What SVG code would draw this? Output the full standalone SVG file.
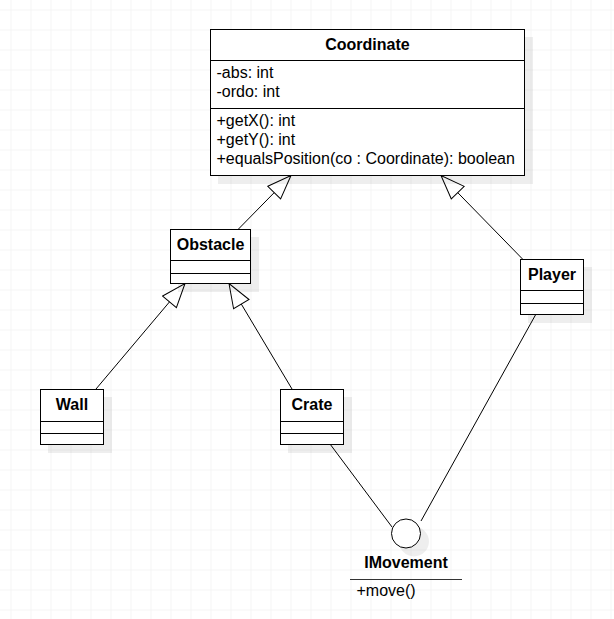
<svg xmlns="http://www.w3.org/2000/svg" width="614" height="619" viewBox="0 0 614 619">
<defs>
<pattern id="grid" x="10.5" y="9.5" width="20" height="20" patternUnits="userSpaceOnUse">
<path d="M0 0 H20 M0 0 V20" fill="none" stroke="#ebebeb" stroke-width="1"/>
</pattern>
<marker id="inherit" markerUnits="userSpaceOnUse" viewBox="0 0 26 20" markerWidth="26" markerHeight="20" refX="25" refY="10" orient="auto">
<polygon points="1,1 25,10 1,19" fill="#fff" stroke="#000" stroke-width="1"/>
</marker>
</defs>
<style>
.box{fill:#fff;stroke:#000;stroke-width:1}
.sh{fill:#000;opacity:0.065}
.sep{stroke:#000;stroke-width:1}
.t{font-family:"Liberation Sans",Arial,sans-serif;font-size:16px;fill:#000}
.b{font-weight:bold;text-anchor:middle}
.edge{fill:none;stroke:#000;stroke-width:1}
</style>
<rect x="0" y="0" width="614" height="619" fill="#fff"/>
<rect x="0" y="0" width="614" height="619" fill="url(#grid)"/>

<g id="connectors">
<path class="edge" d="M238.5 229 L291 175.5" marker-end="url(#inherit)"/>
<path class="edge" d="M522.5 259 L441 175.5" marker-end="url(#inherit)"/>
<path class="edge" d="M96 389 L185 283.5" marker-end="url(#inherit)"/>
<path class="edge" d="M292 389 L229 283.5" marker-end="url(#inherit)"/>
<path class="edge" d="M330 444 L392 527"/>
<path class="edge" d="M536 314 L421 521"/>
</g>

<g id="Coordinate">
<rect class="sh" x="218" y="37" width="315" height="147"/>
<rect class="box" x="210.5" y="29.5" width="314" height="146"/>
<line class="sep" x1="210.5" y1="60.5" x2="524.5" y2="60.5"/>
<line class="sep" x1="210.5" y1="108.5" x2="524.5" y2="108.5"/>
<text class="t b" x="367.5" y="50">Coordinate</text>
<text class="t" x="216.5" y="78">-abs: int</text>
<text class="t" x="216.5" y="97">-ordo: int</text>
<text class="t" x="216.5" y="126">+getX(): int</text>
<text class="t" x="216.5" y="145">+getY(): int</text>
<text class="t" x="216.5" y="164">+equalsPosition(co : Coordinate): boolean</text>
</g>

<g id="Obstacle">
<rect class="sh" x="178" y="237" width="81" height="55"/>
<rect class="box" x="170.5" y="229.5" width="80" height="54"/>
<line class="sep" x1="170.5" y1="260.5" x2="250.5" y2="260.5"/>
<line class="sep" x1="170.5" y1="273.5" x2="250.5" y2="273.5"/>
<text class="t b" x="210.5" y="249.5">Obstacle</text>
</g>

<g id="Wall">
<rect class="sh" x="48" y="397" width="64" height="56"/>
<rect class="box" x="40.5" y="389.5" width="63" height="55"/>
<line class="sep" x1="40.5" y1="421.5" x2="103.5" y2="421.5"/>
<line class="sep" x1="40.5" y1="433.5" x2="103.5" y2="433.5"/>
<text class="t b" x="72" y="409.5">Wall</text>
</g>

<g id="Crate">
<rect class="sh" x="288" y="397" width="64" height="56"/>
<rect class="box" x="280.5" y="389.5" width="63" height="55"/>
<line class="sep" x1="280.5" y1="421.5" x2="343.5" y2="421.5"/>
<line class="sep" x1="280.5" y1="433.5" x2="343.5" y2="433.5"/>
<text class="t b" x="312" y="409.5">Crate</text>
</g>

<g id="Player">
<rect class="sh" x="528" y="267" width="64" height="56"/>
<rect class="box" x="520.5" y="259.5" width="63" height="55"/>
<line class="sep" x1="520.5" y1="290.5" x2="583.5" y2="290.5"/>
<line class="sep" x1="520.5" y1="303.5" x2="583.5" y2="303.5"/>
<text class="t b" x="552" y="280">Player</text>
</g>

<g id="IMovement">
<circle class="sh" cx="414" cy="541.5" r="15"/>
<circle class="box" cx="406" cy="533.5" r="14.5"/>
<text class="t b" x="406" y="568">IMovement</text>
<line x1="350" y1="579.5" x2="462" y2="579.5" stroke="#333" stroke-width="1"/>
<text class="t" x="356.5" y="596">+move()</text>
</g>
</svg>
